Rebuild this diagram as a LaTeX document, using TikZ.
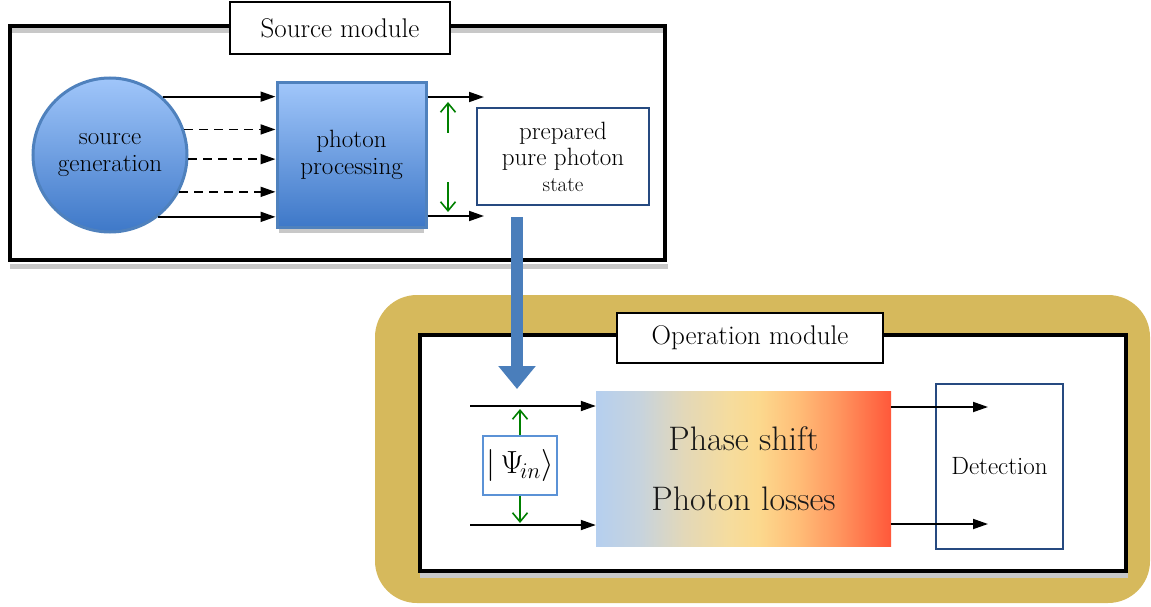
\RequirePackage{fix-cm}
\documentclass[tikz,border=0pt]{standalone}
\usepackage{fontspec}
\usetikzlibrary{arrows.meta,shapes.geometric}

\definecolor{edgeblue}{RGB}{79,129,189}
\definecolor{darkblue}{RGB}{38,74,128}
\definecolor{lightedge}{RGB}{91,146,214}
\definecolor{feedblue}{RGB}{74,126,187}
\definecolor{fillTop}{RGB}{160,198,250}
\definecolor{fillBot}{RGB}{62,120,200}
\definecolor{gold}{RGB}{214,185,92}
\definecolor{okgreen}{RGB}{0,128,0}
\definecolor{bandgray}{RGB}{200,200,200}
\definecolor{hA}{RGB}{181,207,239}
\definecolor{hB}{RGB}{199,211,221}
\definecolor{hC}{RGB}{227,216,184}
\definecolor{hD}{RGB}{245,220,158}
\definecolor{hE}{RGB}{252,217,142}
\definecolor{hF}{RGB}{255,190,120}
\definecolor{hG}{RGB}{255,150,95}
\definecolor{hH}{RGB}{255,88,58}

% blue -> yellow -> red heat map across the operation block
\pgfdeclarehorizontalshading{heat}{100bp}{%
  color(0bp)=(hA); color(25bp)=(hA); color(32.5bp)=(hB); color(40bp)=(hC);
  color(47.5bp)=(hD); color(52.5bp)=(hE); color(59bp)=(hF); color(66bp)=(hG);
  color(75bp)=(hH); color(100bp)=(hH)}

\tikzset{
  modulebox/.style={draw=black, line width=4pt, fill=white},
  titlebox/.style={draw=black, line width=2.5pt, fill=white, inner sep=0pt,
    font=\fontsize{27}{32}\selectfont},
  bluefill/.style={top color=fillTop, bottom color=fillBot, draw=edgeblue,
    line width=3pt, inner sep=0pt, align=center,
    font=\fontsize{25}{28}\selectfont},
  outlinebox/.style={draw=darkblue, line width=2.5pt, fill=white, inner sep=0pt,
    align=center, font=\fontsize{25}{27}\selectfont},
  flow/.style={draw=black, line width=1.8pt, -{Triangle[length=15pt,width=10pt]}},
  dashflow/.style={flow, dash pattern=on 9pt off 6pt},
  swap/.style={draw=okgreen, line width=1.6pt, -{Straight Barb[length=9pt,width=15pt]}},
  band/.style={draw=bandgray, line width=5pt},
}

\begin{document}
\begin{tikzpicture}[x=1pt, y=-1pt]
\useasboundingbox (0,0) rectangle (1151,607);

% ---------------- source module ----------------
\path[band] (10,31) -- (665,31);
\path[band] (10,266) -- (668,266);
\draw[modulebox, fill=none] (9.5,26) rectangle (665,259.5);
\node[titlebox, minimum width=220pt, minimum height=52pt] (srctitle) at (340,28) {Source module};

\node[bluefill, circle, minimum size=154pt] (src) at (110,155)
  {source\\[-1pt]generation};
\path[band] (279,230.5) -- (424,230.5);
\node[bluefill, rectangle, minimum width=149pt, minimum height=144pt] (proc) at (351.5,155)
  {photon\\[-1pt]processing};

\draw[flow]     (src.48.9)  -- (src.48.9  -| proc.west);
\draw[dashflow] (src.19.7)  -- (src.19.7  -| proc.west);
\draw[dashflow] (src.-3.7)  -- (src.-3.7  -| proc.west);
\draw[dashflow] (src.-28.7) -- (src.-28.7 -| proc.west);
\draw[flow]     (src.-52.4) -- (src.-52.4 -| proc.west);

\coordinate (outA) at (484,97);
\coordinate (outB) at (484,216);
\draw[flow] (proc.east |- outA) -- (outA);
\draw[flow] (proc.east |- outB) -- (outB);

\coordinate (upS) at (448,133);
\coordinate (upE) at (448,102);
\coordinate (dnS) at (448,182);
\coordinate (dnE) at (448,212);
\draw[swap] (upS) -- (upE);
\draw[swap] (dnS) -- (dnE);

\node[outlinebox, minimum width=172pt, minimum height=97pt] (prep) at (563,156.5)
  {prepared\\[-1pt]pure photon\\[-1pt]{\fontsize{21}{24}\selectfont state}};

% ---------------- operation module ----------------
\fill[gold, rounded corners=42pt] (375,295) rectangle (1150,603);
\path[band] (420,575.5) -- (1128,575.5);
\draw[modulebox] (420,335) rectangle (1126,571);
\node[titlebox, minimum width=266pt, minimum height=50pt] (optitle) at (750,338) {Operation module};

\node[shading=heat, minimum width=295pt, minimum height=155pt, inner sep=0pt,
  align=center, text=black!90, font=\fontsize{34}{60}\selectfont] (ops) at (743.5,469)
  {Phase shift\\Photon losses};

\node[draw=lightedge, line width=2.5pt, fill=white, minimum width=74pt,
  minimum height=59pt, inner sep=0pt, font=\fontsize{32}{36}\selectfont] (psi) at (520,465.5)
  {$\bigl|\,\Psi_{\!in}\bigr\rangle$};

\coordinate (inA) at (470,406);
\coordinate (inB) at (470,525);
\draw[flow] (inA) -- (inA -| ops.west);
\draw[flow] (inB) -- (inB -| ops.west);

\coordinate (psiUp) at (520,409);
\coordinate (psiDn) at (520,523);
\draw[swap] (psi.north) -- (psiUp);
\draw[swap] (psi.south) -- (psiDn);

\node[draw=darkblue, line width=2.5pt, minimum width=127pt, minimum height=165pt,
  inner sep=0pt, font=\fontsize{25}{28}\selectfont] (det) at (999.5,466.5) {Detection};

\coordinate (resA) at (988,407);
\coordinate (resB) at (988,524);
\draw[flow] (ops.east |- resA) -- (resA);
\draw[flow] (ops.east |- resB) -- (resB);

% ---------------- hand-over from source to operation ----------------
\coordinate (feedTop) at (517,217);
\coordinate (feedTip) at (517,389);
\draw[feedblue, line width=12pt, -{Triangle[length=23pt,width=36pt]}] (feedTop) -- (feedTip);

\end{tikzpicture}
\end{document}
